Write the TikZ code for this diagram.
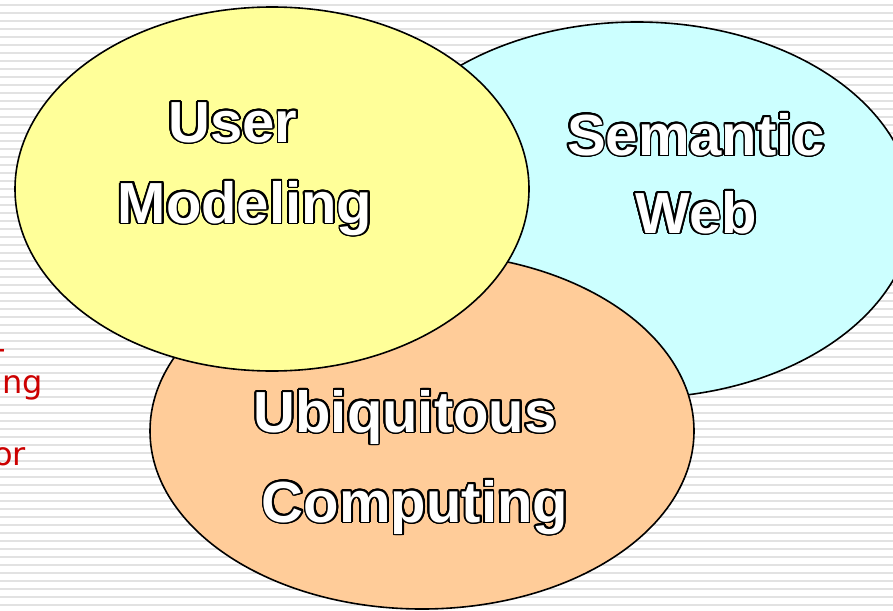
\documentclass[tikz,border=0pt]{standalone}
\usepackage{fontspec}
\setmainfont{Liberation Sans}
\newfontfamily\redfont{DejaVu Sans}
\usepackage{contour}
\contourlength{1.8pt}
\contournumber{24}
\definecolor{stripegray}{HTML}{E2E2E2}
\definecolor{ellyellow}{HTML}{FFFF99}
\definecolor{ellcyan}{HTML}{CCFFFF}
\definecolor{ellorange}{HTML}{FFCC99}
\definecolor{redtxt}{HTML}{CC0000}
\tikzset{
  stripe/.style={draw=stripegray, line width=2.4pt},
  bubble/.style={draw=black, line width=1.6pt},
  lbl/.style={text=white, inner sep=0pt, anchor=base, font=\fontsize{58}{62}\selectfont\bfseries},
  redlbl/.style={text=redtxt, inner sep=0pt, anchor=base east, font=\redfont\fontsize{32}{36}\selectfont}
}
\begin{document}
\begin{tikzpicture}[x=1pt,y=-1pt]
\useasboundingbox (0,0) rectangle (893,610);
\clip (0,0) rectangle (893,610);
\fill[white] (0,0) rectangle (893,610);
\foreach \y in {5,13,...,610} \draw[stripe] (0,\y) -- (893,\y);
% left partial red text
\node[redlbl] (r1) at (6,359) {-};
\node[redlbl] (r2) at (43,393) {ing};
\node[redlbl] (r3) at (26,465) {or};
% ellipses
\coordinate (cweb) at (637,210);
\coordinate (cubi) at (422,431);
\coordinate (cuser) at (272,189);
\draw[bubble, fill=ellcyan] (cweb) ellipse [x radius=276, y radius=188];
\draw[bubble, fill=ellorange] (cubi) ellipse [x radius=272, y radius=178];
\draw[bubble, fill=ellyellow] (cuser) ellipse [x radius=257, y radius=182];
% labels
\node[lbl] (user) at (233,142) {\contour{black}{User}};
\node[lbl] (model) at (245,223) {\contour{black}{Modeling}};
\node[lbl] (sem) at (696,155) {\contour{black}{Semantic}};
\node[lbl] (web) at (696,233) {\contour{black}{Web}};
\node[lbl] (ubi) at (405,432) {\contour{black}{Ubiquitous}};
\node[lbl] (comp) at (415,522) {\contour{black}{Computing}};
\end{tikzpicture}
\end{document}
